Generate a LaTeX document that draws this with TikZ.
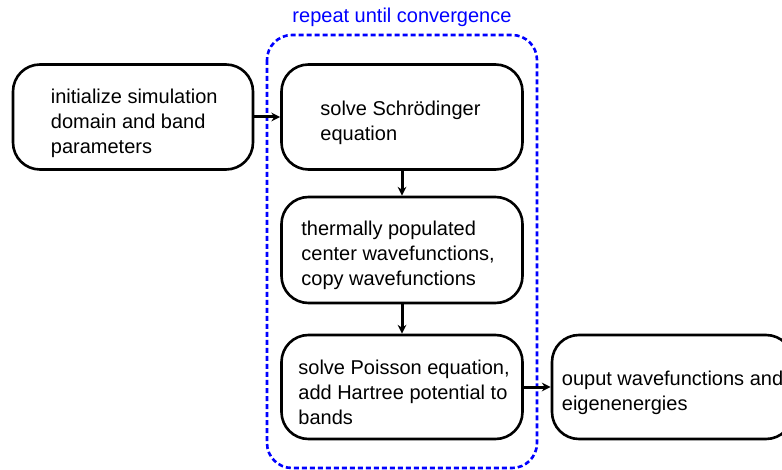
\documentclass[tikz,border=0pt]{standalone}
\usepackage{fontspec}
\setmainfont{Liberation Sans}
\usetikzlibrary{positioning}
\begin{document}
\begin{tikzpicture}[x=1pt,y=1pt,
  stepbox/.style={draw=black, line width=2.6pt, rounded corners=27pt, fill=white, inner sep=0pt},
  txt/.style={font=\fontsize{20}{25}\selectfont, align=left, inner sep=0pt, anchor=west},
  loopbox/.style={draw=blue, line width=2.6pt, rounded corners=25pt, dash pattern=on 5pt off 3pt},
  flow/.style={draw=black, line width=3pt},
  tiphead/.style={fill=black}]
  % page frame, y measured downward from the top edge as negative values
  \clip (0,0) rectangle (782,-470);
  \useasboundingbox (0,0) rectangle (782,-470);
  % loop container
  \draw[loopbox] (267,-35) rectangle (537,-468);
  \node[font=\fontsize{20}{25}\selectfont, text=blue, inner sep=0pt] (title) at (402,-17) {repeat until convergence};
  % process steps
  \node[stepbox, minimum width=240pt, minimum height=105pt] (init) at (133,-117) {};
  \node[stepbox, minimum width=241pt, minimum height=105pt] (schr) at (402,-117) {};
  \node[stepbox, minimum width=241pt, minimum height=106pt] (therm) at (402,-250) {};
  \node[stepbox, minimum width=241pt, minimum height=104pt] (poiss) at (402,-387) {};
  \node[stepbox, minimum width=241pt, minimum height=104pt] (outp) at (672.5,-387) {};
  % step labels
  \node[txt] (tinit) at ([xshift=39pt,yshift=-6pt]init.west) {initialize simulation\\domain and band\\parameters};
  \node[txt] (tschr) at ([xshift=40pt,yshift=-6pt]schr.west) {solve Schrödinger\\equation};
  \node[txt] (ttherm) at ([xshift=21pt,yshift=-5pt]therm.west) {thermally populated\\center wavefunctions,\\copy wavefunctions};
  \node[txt] (tpoiss) at ([xshift=18pt,yshift=-5pt]poiss.west) {solve Poisson equation,\\add Hartree potential to\\bands};
  \node[txt] (toutp) at ([xshift=11pt,yshift=-6pt]outp.west) {ouput wavefunctions and\\eigenenergies};
  % connectors: shaft, then a stealth-shaped head at the target
  \draw[flow] (init.east) -- ([xshift=-5pt]schr.west);
  \fill[tiphead] (schr.west) -- ([xshift=-9pt,yshift=4.5pt]schr.west) -- ([xshift=-6pt]schr.west) -- ([xshift=-9pt,yshift=-4.5pt]schr.west) -- cycle;
  \draw[flow] (schr.south) -- ([yshift=5pt]therm.north);
  \fill[tiphead] (therm.north) -- ([xshift=-4.5pt,yshift=9pt]therm.north) -- ([yshift=6pt]therm.north) -- ([xshift=4.5pt,yshift=9pt]therm.north) -- cycle;
  \draw[flow] (therm.south) -- ([yshift=5pt]poiss.north);
  \fill[tiphead] (poiss.north) -- ([xshift=-4.5pt,yshift=9pt]poiss.north) -- ([yshift=6pt]poiss.north) -- ([xshift=4.5pt,yshift=9pt]poiss.north) -- cycle;
  \draw[flow] (poiss.east) -- ([xshift=-5pt]outp.west);
  \fill[tiphead] (outp.west) -- ([xshift=-9pt,yshift=4.5pt]outp.west) -- ([xshift=-6pt]outp.west) -- ([xshift=-9pt,yshift=-4.5pt]outp.west) -- cycle;
\end{tikzpicture}
\end{document}
